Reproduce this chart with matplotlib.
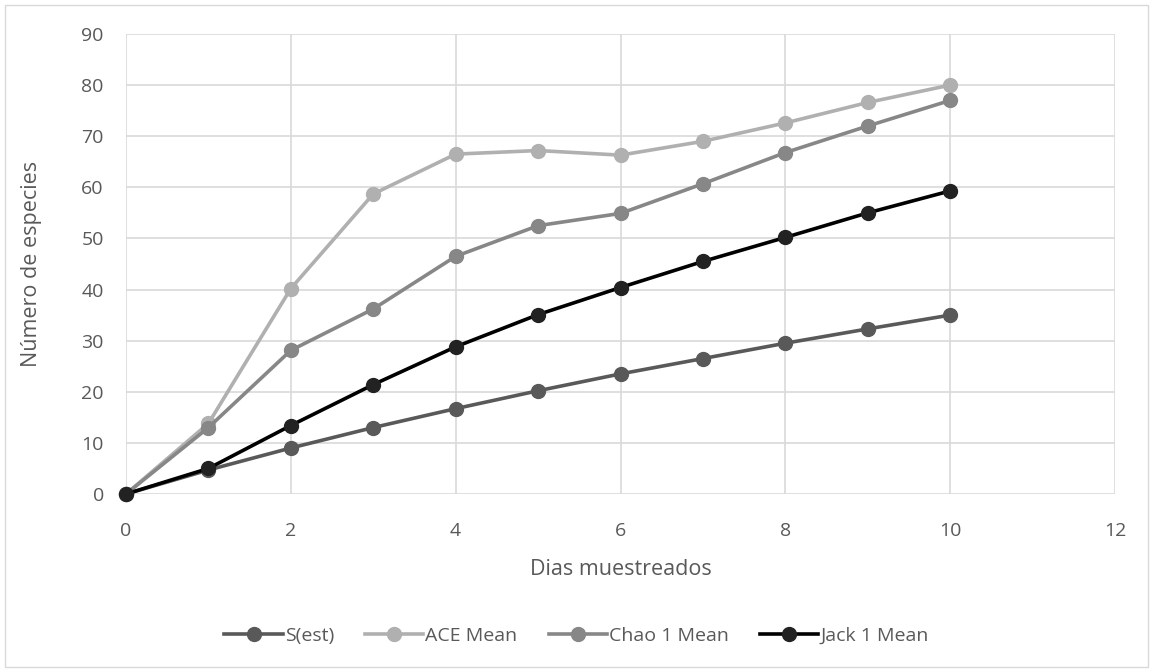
import matplotlib
matplotlib.use("Agg")
import matplotlib.pyplot as plt
from matplotlib.patches import Rectangle

dias = [0, 1, 2, 3, 4, 5, 6, 7, 8, 9, 10]
s_est = [0, 4.7, 9.0, 13.0, 16.7, 20.2, 23.5, 26.5, 29.5, 32.3, 35.0]
ace_mean = [0, 13.8, 40.2, 58.7, 66.5, 67.2, 66.3, 69.0, 72.6, 76.6, 80.0]
chao1_mean = [0, 13.0, 28.1, 36.2, 46.5, 52.5, 54.9, 60.7, 66.8, 72.0, 77.0]
jack1_mean = [0, 5.0, 13.4, 21.4, 28.8, 35.1, 40.4, 45.5, 50.2, 55.0, 59.3]

series = [
    ("S(est)", s_est, "#595959", "#595959"),
    ("ACE Mean", ace_mean, "#b0b0b0", "#b0b0b0"),
    ("Chao 1 Mean", chao1_mean, "#878787", "#878787"),
    ("Jack 1 Mean", jack1_mean, "#000000", "#222222"),
]

plt.rcParams['font.family'] = ['Open Sans', 'DejaVu Sans']
text_col = "#595959"

fig = plt.figure(figsize=(11.53, 6.72), dpi=100)
ax = fig.add_axes([126/1153, 1-494/672, (1115-126)/1153, (494-34)/672])

for name, vals, lc, mc in series:
    ax.plot(dias, vals, color=lc, lw=2.6, marker='o', markersize=10,
            markerfacecolor=mc, markeredgecolor=mc, label=name, zorder=3)

ax.set_xlim(0, 12)
ax.set_ylim(0, 90)
ax.set_xticks(range(0, 13, 2))
ax.set_yticks(range(0, 91, 10))
ax.grid(True, color="#d9d9d9", lw=1.2, zorder=0)
ax.set_axisbelow(True)
for sp in ax.spines.values():
    sp.set_visible(False)
ax.tick_params(axis='y', length=0, labelsize=14, labelcolor=text_col, pad=16)
ax.tick_params(axis='x', length=0, labelsize=14, labelcolor=text_col, pad=20)
ax.set_xlabel("Dias muestreados", fontsize=15.5, color=text_col, labelpad=14)
ax.set_ylabel("Número de especies", fontsize=15.5, color=text_col, labelpad=28)
for l in ax.lines:
    l.set_clip_on(False)

fig.legend(loc='center', bbox_to_anchor=(0.5, 1-636/672), ncol=4, frameon=False,
           fontsize=14, labelcolor=text_col, handlelength=3.0, handletextpad=0.1,
           columnspacing=1.6)

fig.patches.append(Rectangle((5/1153, 5/672), 1143/1153, 662/672, transform=fig.transFigure,
                             fill=False, edgecolor="#d9d9d9", lw=1.0))

fig.savefig("out.png", dpi=100)
